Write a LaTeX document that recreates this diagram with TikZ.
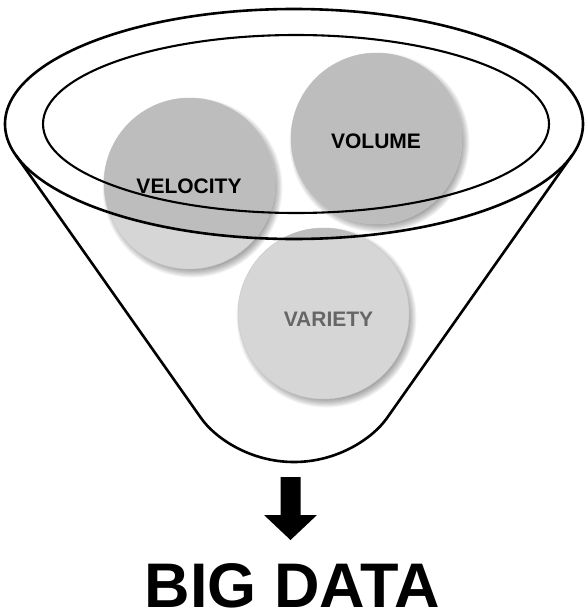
\documentclass[tikz,border=0pt]{standalone}
\usepackage{fontspec}
\setmainfont{Liberation Sans}
\definecolor{lightbub}{HTML}{D6D6D6}
\definecolor{darkbub}{HTML}{BDBDBD}
\definecolor{bubedge}{HTML}{CBCBCB}
\definecolor{vartext}{HTML}{666666}
\begin{document}
\begin{tikzpicture}[x=1pt,y=-1pt,
  bubble/.style={circle,minimum size=171pt,inner sep=0pt,fill=lightbub,draw=bubedge,line width=0.5pt},
  lbl/.style={font=\bfseries\fontsize{21}{21}\selectfont,inner sep=0pt},
  title/.style={font=\bfseries\fontsize{63}{63}\selectfont,inner sep=0pt},
  rim/.style={line width=2.6pt},
  innerrim/.style={line width=2.1pt},
  shadowlayer/.style={fill=black,opacity=0.05},
]
\useasboundingbox (0,0) rectangle (584,613);
% soft drop shadows
\foreach \cx/\cy in {189.5/183.5,376.5/138.5,323.5/313.5}{
  \foreach \k in {0,...,9}{
    \fill[shadowlayer] (\cx+3,\cy+4) circle[radius={80pt+\k*1.1pt}];
  }
}
% bubbles
\node[bubble] (vel) at (189.5,183.5) {};
\node[bubble] (vol) at (376.5,138.5) {};
\node[bubble] (var) at (323.5,313.5) {};
% darker part inside the funnel mouth
\begin{scope}
  \clip (294,124) ellipse [x radius=289pt, y radius=115pt];
  \fill[darkbub] (vel.center) circle[radius=85.5pt];
  \fill[darkbub] (vol.center) circle[radius=85.5pt];
  \fill[darkbub] (var.center) circle[radius=85.5pt];
\end{scope}
% funnel
\draw[rim] (294,124) ellipse [x radius=289pt, y radius=115pt];
\draw[innerrim] (296,124) ellipse [x radius=253pt, y radius=89pt];
\coordinate (lt) at (15.8,155.1);
\coordinate (rt) at (572.2,155.1);
\coordinate (lb) at (201,418);
\coordinate (rb) at (387,418);
\coordinate (bot) at (294,462);
\draw[rim,line join=round] (lt) -- (lb) .. controls (215,438) and (250,462) .. (bot)
  .. controls (338,462) and (373,438) .. (rb) -- (rt);
% labels
\node[lbl] (velt) at (189,186) {VELOCITY};
\node[lbl] (volt) at (376,141) {VOLUME};
\node[lbl,text=vartext] (vart) at (328.5,319.5) {VARIETY};
% arrow
\coordinate (arrtop) at (290.5,477);
\coordinate (arrtip) at (290.5,540);
\fill (280.5,477) -- (300.5,477) -- (300.5,515) -- (317,515) -- (arrtip) -- (264,515) -- (280.5,515) -- cycle;
% title
\node[title,anchor=base] (big) at (292.5,607) {BIG DATA};
\end{tikzpicture}
\end{document}
